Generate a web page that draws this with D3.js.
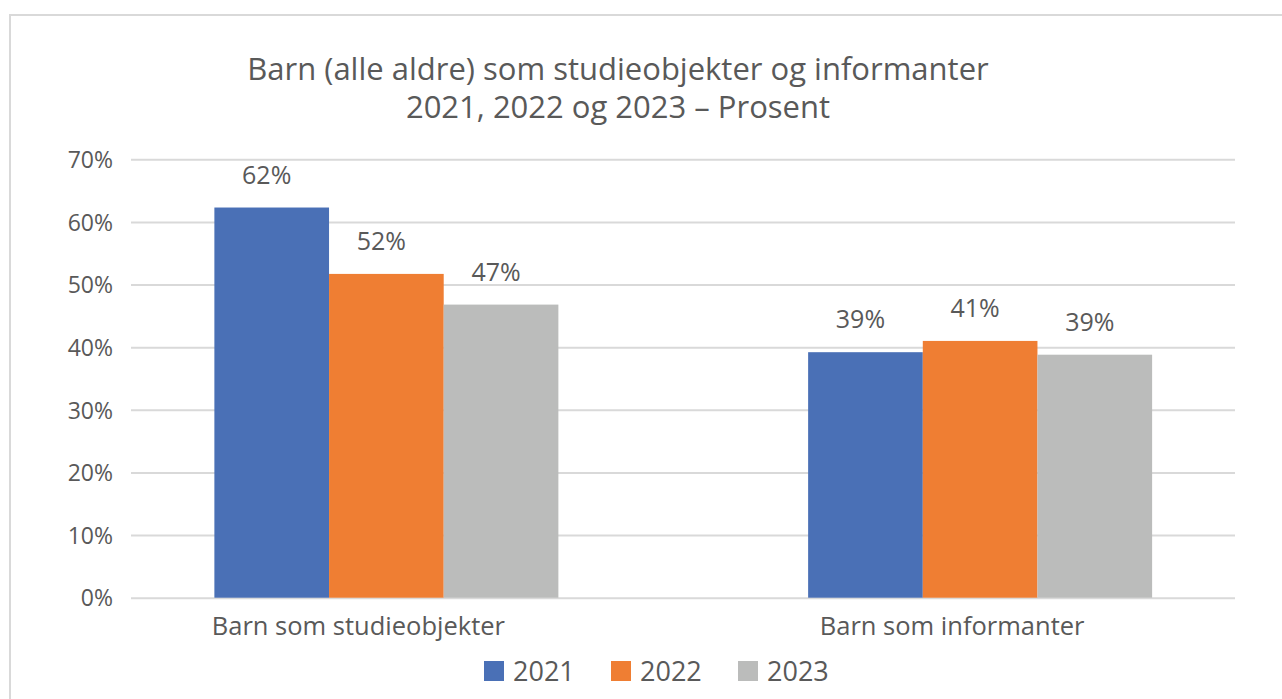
<!DOCTYPE html>
<html>
<head>
<meta charset="utf-8">
<script src="https://cdn.jsdelivr.net/npm/d3@7"></script>
<style>
	html, body { margin: 0; padding: 0; background: white; }
	#outer { overflow: hidden; }
</style>
</head>
<body>
<div id="outer"></div>
<script>

////////// Data //////////
const categories = ['Barn som studieobjekter', 'Barn som informanter'];
const seriesNames = ['2021', '2022', '2023'];
const values2021 = [0.623, 0.392];
const values2022 = [0.517, 0.410];
const values2023 = [0.468, 0.388];
const seriesColors = ['#4A70B6', '#EF7E33', '#BBBCBB'];
const yTicks = [0, 0.1, 0.2, 0.3, 0.4, 0.5, 0.6, 0.7];
const titleLines = ['Barn (alle aldre) som studieobjekter og informanter', '2021, 2022 og 2023 \u2013 Prosent'];

////////////////////////////////////////////////////////////////
	// SETUP
////////////////////////////////////////////////////////////////
const jqWidth = 1282;
const jqHeight = 699;

const textColor = '#595959';
const gridColor = '#D9D9D9';
const fontFamily = '"Open Sans", "Liberation Sans", sans-serif';

const plot = { left: 131, right: 1235, top: 159.3, bottom: 597.7 };
const groupWidth = 344;

const seriesValues = [values2021, values2022, values2023];
const rows = categories.map((c, i) => ({
	category: c,
	values: seriesNames.map((s, j) => ({ series: s, value: seriesValues[j][i], color: seriesColors[j] }))
}));

////////////////////////////////////////////////////////////////
	// RENDER
////////////////////////////////////////////////////////////////
const svg = d3.select('#outer')
	.style('width', jqWidth + 'px')
	.style('height', jqHeight + 'px')
	.append('svg')
	.attr('width', jqWidth)
	.attr('height', jqHeight)
	.style('font-family', fontFamily);

// chart border (only top & left show in the crop)
svg.append('rect')
	.attr('x', 10)
	.attr('y', 15)
	.attr('width', jqWidth + 20)
	.attr('height', jqHeight + 20)
	.attr('fill', 'white')
	.attr('stroke', gridColor)
	.attr('stroke-width', 2);

// SCALES //
const y = d3.scaleLinear().domain([0, 0.7]).range([plot.bottom, plot.top]);
const x0 = d3.scaleBand().domain(categories).range([89.5, 1277]);
const x1 = d3.scaleBand().domain(seriesNames)
	.range([(x0.bandwidth() - groupWidth) / 2, (x0.bandwidth() + groupWidth) / 2]);

// GRIDLINES + Y AXIS //
const yAxis = svg.append('g')
	.attr('transform', `translate(${plot.left},0)`)
	.call(d3.axisLeft(y)
		.tickValues(yTicks)
		.tickSize(-(plot.right - plot.left))
		.tickPadding(18)
		.tickFormat(d3.format('.0%')));
yAxis.select('.domain').remove();
yAxis.selectAll('.tick line').attr('stroke', gridColor).attr('stroke-width', 2);
yAxis.selectAll('.tick text')
	.attr('fill', textColor)
	.style('font-size', '23px')
	.style('font-family', fontFamily)
	.attr('dy', '0.36em');

// BARS //
const groups = svg.append('g').selectAll('g')
	.data(rows)
	.join('g')
	.attr('transform', d => `translate(${x0(d.category)},0)`);

groups.selectAll('rect')
	.data(d => d.values)
	.join('rect')
	.attr('x', d => x1(d.series))
	.attr('width', x1.bandwidth())
	.attr('y', d => y(d.value))
	.attr('height', d => y(0) - y(d.value))
	.attr('fill', d => d.color);

// DATA LABELS //
groups.selectAll('text.val')
	.data(d => d.values)
	.join('text')
	.attr('class', 'val')
	.attr('x', d => x1(d.series) + x1.bandwidth() / 2 - 5)
	.attr('y', d => y(d.value) - 24)
	.attr('text-anchor', 'middle')
	.attr('fill', textColor)
	.style('font-size', '25px')
	.text(d => d3.format('.0%')(d.value));

// CATEGORY LABELS //
svg.append('g').selectAll('text')
	.data(categories)
	.join('text')
	.attr('x', d => x0(d) + x0.bandwidth() / 2 - 28)
	.attr('y', 635)
	.attr('text-anchor', 'middle')
	.attr('fill', textColor)
	.style('font-size', '25.5px')
	.text(d => d);

// TITLE //
svg.append('text')
	.attr('x', 618)
	.attr('y', 80)
	.attr('text-anchor', 'middle')
	.attr('fill', textColor)
	.style('font-size', '31px')
	.selectAll('tspan')
	.data(titleLines)
	.join('tspan')
	.attr('x', 618)
	.attr('dy', (d, i) => i === 0 ? 0 : 38)
	.text(d => d);

// LEGEND //
const legend = svg.append('g').attr('transform', 'translate(484,661)');
const legendItems = legend.selectAll('g')
	.data(seriesNames)
	.join('g')
	.attr('transform', (d, i) => `translate(${i * 127},0)`);
legendItems.append('rect')
	.attr('width', 20)
	.attr('height', 20)
	.attr('fill', (d, i) => seriesColors[i]);
legendItems.append('text')
	.attr('x', 29)
	.attr('y', 20)
	.attr('fill', textColor)
	.style('font-size', '27px')
	.text(d => d);

</script>
</body>
</html>
